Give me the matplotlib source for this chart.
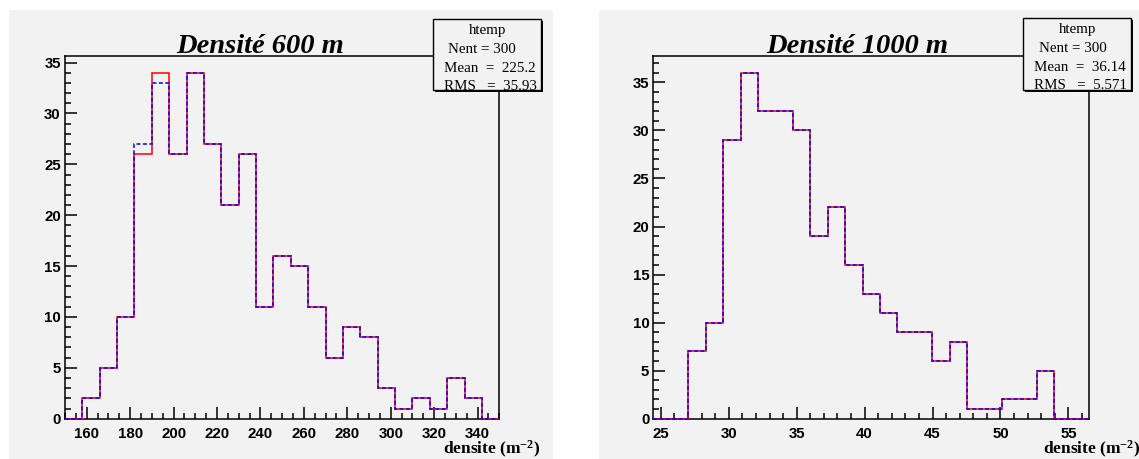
import numpy as np
import matplotlib
matplotlib.use("Agg")
import matplotlib.pyplot as plt
from matplotlib.patches import Rectangle
from matplotlib.ticker import MultipleLocator

plt.rcParams['mathtext.fontset'] = 'custom'
plt.rcParams['mathtext.rm'] = 'Liberation Serif:bold'
plt.rcParams['mathtext.bf'] = 'Liberation Serif:bold'
plt.rcParams['mathtext.default'] = 'bf'

# ---------------- data ----------------
range_600 = (150.0, 350.0)
nbins_600 = 25
counts_600_red = [0, 2, 5, 10, 26, 34, 26, 34, 27, 21, 26, 11, 16, 15, 11, 6, 9, 8, 3, 1, 2, 1, 4, 2, 0]
counts_600_blue = [0, 2, 5, 10, 27, 33, 26, 34, 27, 21, 26, 11, 16, 15, 11, 6, 9, 8, 3, 1, 2, 1, 4, 2, 0]
stats_600 = ["htemp", "Nent = 300", "Mean  =  225.2", "RMS   =  35.93"]
title_600 = "Densité 600 m"

range_1000 = (24.46, 56.52)
nbins_1000 = 25
counts_1000_red = [0, 0, 7, 10, 29, 36, 32, 32, 30, 19, 22, 16, 13, 11, 9, 9, 6, 8, 1, 1, 2, 2, 5, 0, 0]
counts_1000_blue = [0, 0, 7, 10, 29, 36, 32, 32, 30, 19, 22, 16, 13, 11, 9, 9, 6, 8, 1, 1, 2, 2, 5, 0, 0]
stats_1000 = ["htemp", "Nent = 300", "Mean  =  36.14", "RMS   =  5.571"]
title_1000 = "Densité 1000 m"

xlabel = r"densite (m$^{-2}$)"

# ---------------- layout ----------------
W, H = 1139, 459
BG = '#f2f2f2'
fig = plt.figure(figsize=(W / 100, H / 100), dpi=100)
fig.patch.set_facecolor('white')


def fx(p):
    return p / W


def fy(p):
    return 1 - p / H


# pad backgrounds
for x0, x1 in [(9, 553), (599, 1139)]:
    fig.patches.append(Rectangle((fx(x0), 0), (x1 - x0) / W, fy(10), transform=fig.transFigure,
                                 facecolor=BG, edgecolor='none', zorder=-5))

TICKFAM = ['Liberation Sans Narrow', 'Liberation Sans', 'DejaVu Sans']


def make_panel(left_px, right_px, rng, nbins, red, blue, ymax, xmajor, xminor,
               title, title_x, stats, box, stat_x, label_x):
    ax = fig.add_axes([fx(left_px), fy(418.7), (right_px - left_px) / W, (418.7 - 55.5) / H])
    ax.set_zorder(1)
    ax.set_facecolor(BG)
    edges = np.linspace(rng[0], rng[1], nbins + 1)
    ax.stairs(red, edges, color='red', lw=1.1, zorder=3, clip_on=False, baseline=None)
    ax.stairs(blue, edges, color='blue', lw=1.1, linestyle=(0, (2.6, 1.6)), zorder=4,
              clip_on=False, baseline=None)
    ax.set_xlim(rng)
    ax.set_ylim(0, ymax)
    ax.xaxis.set_major_locator(MultipleLocator(xmajor))
    ax.xaxis.set_minor_locator(MultipleLocator(xminor))
    ax.yaxis.set_major_locator(MultipleLocator(5))
    ax.yaxis.set_minor_locator(MultipleLocator(1))
    ax.tick_params(which='both', direction='in', top=False, right=False, width=1.1, color='black')
    ax.tick_params(which='major', length=8.8)
    ax.tick_params(which='minor', length=4.3)
    ax.tick_params(axis='x', which='major', pad=6)
    ax.tick_params(axis='y', which='major', pad=3)
    for lab in ax.get_xticklabels() + ax.get_yticklabels():
        lab.set_fontfamily(TICKFAM)
        lab.set_fontweight('bold')
        lab.set_fontsize(10.8)
    for s in ax.spines.values():
        s.set_linewidth(1.1)
        s.set_color('black')
    # title
    fig.text(fx(title_x), fy(53), title, ha='center', va='baseline',
             family=['Liberation Serif', 'DejaVu Serif'], weight='bold', style='italic', size=20.5)
    # stats box
    bx0, by0, bx1, by1 = box
    fig.patches.append(Rectangle((fx(bx0 + 2), fy(by1 + 2)), (bx1 - bx0) / W, (by1 - by0) / H,
                                 transform=fig.transFigure, facecolor='black', edgecolor='none', zorder=5))
    fig.patches.append(Rectangle((fx(bx0), fy(by1)), (bx1 - bx0) / W, (by1 - by0) / H,
                                 transform=fig.transFigure, facecolor=BG, edgecolor='black', lw=1.0, zorder=6))
    sfont = dict(family=['Liberation Serif', 'DejaVu Serif'], size=10.8, zorder=7)
    fig.text(fx((bx0 + bx1) / 2), fy(by0 + 11.5), stats[0], ha='center', va='center', **sfont)
    ys = [by0 + 30, by0 + 49, by0 + 67]
    for (sx, yy, s) in zip(stat_x, ys, stats[1:]):
        fig.text(fx(sx), fy(yy), s, ha='left', va='center', **sfont)
    # x label
    fig.text(fx(label_x), fy(454.5), xlabel, ha='left', va='baseline',
             family=['Liberation Serif', 'DejaVu Serif'], weight='bold', size=12.5)
    return ax


make_panel(65, 499.3, range_600, nbins_600, counts_600_red, counts_600_blue, 35.7, 20, 5,
           title_600, 260, stats_600, (433.3, 19.3, 541.3, 90.0), (448, 444, 444), 443)
make_panel(653.5, 1089, range_1000, nbins_1000, counts_1000_red, counts_1000_blue, 37.8, 5, 1,
           title_1000, 857.6, stats_1000, (1023.3, 18.3, 1131.0, 90.0), (1039, 1034, 1034), 1043)

fig.savefig("out.png", dpi=100)
